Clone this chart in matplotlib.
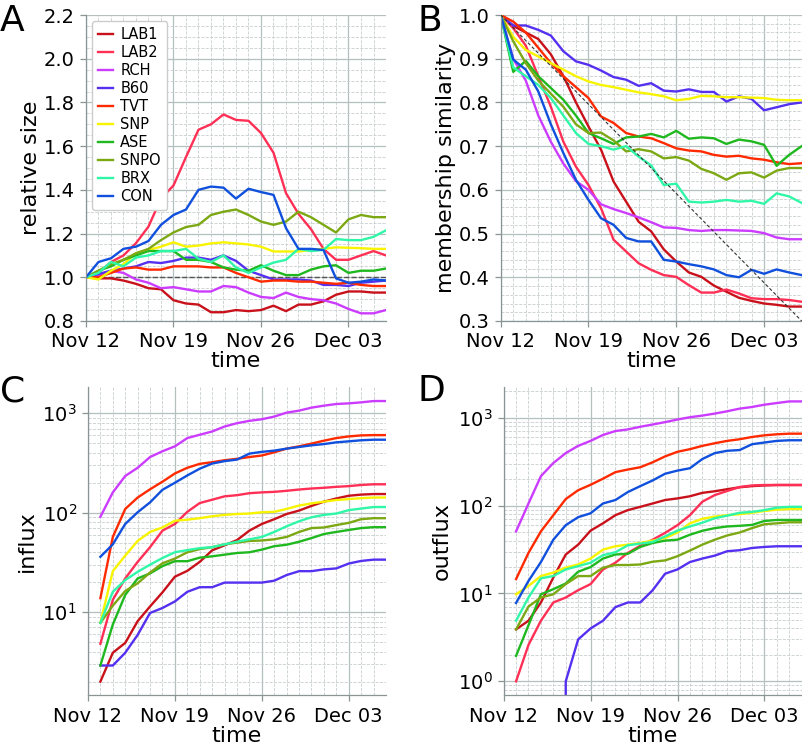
import numpy as np
import pandas as pd
import matplotlib
matplotlib.use("Agg")
import matplotlib.pyplot as plt
import matplotlib.dates as mdates
from matplotlib.ticker import AutoMinorLocator, LogLocator, NullFormatter

# ----------------------------------------------------------------------------
# data
days = pd.date_range("2019-11-12", "2019-12-06", freq="D")   # 25 days
flux_days = days[1:]                                         # influx/outflux start Nov 13

names = ["LAB1", "LAB2", "RCH", "B60", "TVT", "SNP", "ASE", "SNPO", "BRX", "CON"]
colors = ["#c8111a", "#ff2f55", "#cc3cff", "#5530f0", "#ff2a00",
          "#f8f400", "#1fb81f", "#7ca814", "#30f7a8", "#1050dd"]

# panel A: relative size
size_lab1 = [1.0, 0.995, 0.995, 0.985, 0.97, 0.95, 0.945, 0.895, 0.88, 0.875, 0.84, 0.84, 0.85,
             0.845, 0.85, 0.87, 0.845, 0.875, 0.875, 0.89, 0.92, 0.935, 0.935, 0.93, 0.93]
size_lab2 = [1.0, 1.02, 1.07, 1.10, 1.156, 1.232, 1.36, 1.42, 1.55, 1.675, 1.70, 1.745, 1.72,
             1.716, 1.66, 1.57, 1.385, 1.29, 1.22, 1.13, 1.08, 1.08, 1.10, 1.12, 1.10]
size_rch = [1.0, 1.01, 1.03, 1.02, 0.99, 0.975, 0.95, 0.955, 0.945, 0.935, 0.935, 0.96, 0.955,
            0.93, 0.91, 0.905, 0.93, 0.91, 0.90, 0.895, 0.88, 0.855, 0.835, 0.835, 0.85]
size_b60 = [1.0, 1.015, 1.03, 1.04, 1.05, 1.07, 1.065, 1.075, 1.09, 1.09, 1.08, 1.10, 1.075,
            1.03, 1.01, 0.99, 0.99, 0.99, 0.985, 0.965, 0.965, 0.96, 0.975, 0.98, 0.985]
size_tvt = [1.0, 1.0, 1.02, 1.04, 1.045, 1.035, 1.035, 1.05, 1.05, 1.05, 1.045, 1.045, 1.02,
            1.0, 0.98, 0.985, 0.985, 0.98, 0.98, 0.975, 0.97, 0.975, 0.965, 0.96, 0.96]
size_snp = [1.0, 0.99, 1.03, 1.06, 1.11, 1.125, 1.14, 1.16, 1.14, 1.145, 1.155, 1.16, 1.155,
            1.15, 1.14, 1.118, 1.118, 1.118, 1.125, 1.13, 1.137, 1.135, 1.133, 1.13, 1.13]
size_ase = [1.0, 1.03, 1.05, 1.08, 1.10, 1.12, 1.12, 1.12, 1.08, 1.08, 1.07, 1.045, 1.035,
            1.03, 1.055, 1.03, 1.01, 1.01, 1.035, 1.05, 1.055, 1.02, 1.03, 1.03, 1.04]
size_snpo = [1.0, 1.03, 1.06, 1.08, 1.11, 1.13, 1.17, 1.205, 1.23, 1.24, 1.285, 1.30, 1.31,
             1.285, 1.255, 1.24, 1.255, 1.30, 1.275, 1.24, 1.205, 1.265, 1.285, 1.275, 1.275]
size_brx = [1.0, 1.02, 1.07, 1.05, 1.09, 1.10, 1.12, 1.12, 1.13, 1.085, 1.07, 1.10, 1.045,
            1.02, 1.045, 1.067, 1.08, 1.13, 1.12, 1.125, 1.175, 1.17, 1.17, 1.185, 1.215]
size_con = [1.0, 1.07, 1.087, 1.13, 1.14, 1.166, 1.24, 1.285, 1.31, 1.40, 1.415, 1.41, 1.36,
            1.405, 1.39, 1.377, 1.225, 1.13, 1.13, 1.125, 0.995, 0.975, 0.98, 0.99, 0.985]

# panel B: membership similarity
sim_lab1 = [1.0, 0.975, 0.96, 0.945, 0.91, 0.86, 0.80, 0.745, 0.692, 0.619, 0.573, 0.527, 0.505,
            0.464, 0.436, 0.411, 0.401, 0.381, 0.367, 0.353, 0.346, 0.34, 0.337, 0.333, 0.333]
sim_lab2 = [1.0, 0.97, 0.93, 0.86, 0.79, 0.71, 0.653, 0.611, 0.558, 0.486, 0.459, 0.432, 0.417,
            0.405, 0.401, 0.382, 0.365, 0.365, 0.372, 0.363, 0.352, 0.35, 0.35, 0.348, 0.344]
sim_rch = [1.0, 0.90, 0.85, 0.77, 0.71, 0.66, 0.62, 0.60, 0.567, 0.556, 0.547, 0.537, 0.526,
           0.514, 0.513, 0.508, 0.506, 0.508, 0.508, 0.507, 0.506, 0.501, 0.491, 0.487, 0.487]
sim_b60 = [1.0, 0.976, 0.976, 0.966, 0.953, 0.917, 0.894, 0.886, 0.873, 0.858, 0.852, 0.838, 0.844,
           0.827, 0.825, 0.83, 0.824, 0.824, 0.802, 0.814, 0.808, 0.782, 0.789, 0.796, 0.80]
sim_tvt = [1.0, 0.985, 0.96, 0.925, 0.89, 0.86, 0.835, 0.81, 0.768, 0.753, 0.73, 0.722, 0.718,
           0.707, 0.695, 0.69, 0.688, 0.68, 0.676, 0.678, 0.672, 0.669, 0.663, 0.659, 0.661]
sim_snp = [1.0, 0.95, 0.92, 0.905, 0.89, 0.875, 0.86, 0.848, 0.84, 0.835, 0.829, 0.823, 0.819,
           0.814, 0.805, 0.808, 0.815, 0.814, 0.812, 0.812, 0.811, 0.81, 0.806, 0.805, 0.805]
sim_ase = [1.0, 0.87, 0.895, 0.86, 0.833, 0.806, 0.77, 0.73, 0.718, 0.705, 0.72, 0.722, 0.728,
           0.72, 0.735, 0.717, 0.72, 0.718, 0.705, 0.715, 0.711, 0.703, 0.655, 0.68, 0.70]
sim_snpo = [1.0, 0.94, 0.89, 0.85, 0.82, 0.79, 0.75, 0.73, 0.731, 0.713, 0.688, 0.693, 0.688,
            0.672, 0.675, 0.667, 0.648, 0.638, 0.623, 0.638, 0.64, 0.628, 0.644, 0.65, 0.65]
sim_brx = [1.0, 0.88, 0.86, 0.84, 0.81, 0.77, 0.73, 0.705, 0.70, 0.692, 0.70, 0.676, 0.656,
           0.611, 0.614, 0.573, 0.571, 0.573, 0.577, 0.573, 0.575, 0.568, 0.592, 0.585, 0.57]
sim_con = [1.0, 0.898, 0.875, 0.825, 0.75, 0.684, 0.623, 0.577, 0.535, 0.52, 0.49, 0.482, 0.482,
           0.44, 0.436, 0.43, 0.425, 0.418, 0.405, 0.40, 0.417, 0.408, 0.418, 0.411, 0.405]

# panel C: influx (Nov 13 .. Dec 06)
in_lab1 = [2, 3.9, 4.9, 8.1, 11.4, 15.8, 22.7, 26, 32, 41.8, 47, 53, 66, 77, 86, 97, 105, 117,
           129, 139, 148, 152, 154, 154]
in_lab2 = [4.8, 13.3, 21.8, 32, 45, 66, 77, 102, 125, 135, 146, 150, 157, 160, 162, 166, 171,
           175, 178, 182, 185, 190, 193, 193]
in_rch = [91, 160, 234, 283, 363, 415, 465, 563, 608, 656, 736, 795, 839, 871, 926, 1015, 1063,
          1139, 1193, 1239, 1258, 1288, 1327, 1327]
in_b60 = [2.9, 2.9, 3.9, 5.9, 9.8, 11, 12.8, 16, 17.8, 17.8, 19.8, 19.8, 19.8, 19.8, 20.7, 23.6,
          25.8, 25.8, 26.9, 27.5, 30.8, 32.7, 33.7, 33.7]
in_tvt = [13.8, 57, 109, 142, 172, 205, 248, 283, 310, 322, 337, 348, 363, 376, 405, 441, 465,
          495, 530, 563, 585, 599, 603, 603]
in_snp = [7.8, 25.8, 37, 52, 64, 71, 83, 85, 88, 92, 95, 97, 98, 101, 102, 109, 118, 124, 129,
          134, 137, 140, 142, 142]
in_ase = [2.9, 7.5, 14.9, 21.8, 24.5, 29, 32.5, 32.5, 35.3, 36.4, 37.8, 39.3, 40, 42.5, 46, 47.6,
          51, 55.5, 61, 64, 67, 70, 71.5, 71.5]
in_snpo = [7.8, 11.6, 16.3, 19.5, 25, 31, 34.5, 40, 43, 45, 48, 50, 52, 52.5, 54, 57, 64, 70, 71,
           75, 79, 86, 88, 88]
in_brx = [7.8, 16, 21, 25.4, 30, 35, 40, 42, 44, 45, 48, 51, 54, 57, 64, 73, 82, 90, 95, 98, 106,
          110, 114, 114]
in_con = [36, 48, 77, 101, 127, 170, 200, 237, 277, 312, 330, 342, 393, 409, 421, 441, 458, 476,
          490, 510, 522, 535, 542, 542]

# panel D: outflux (Nov 13 .. Dec 06)
out_lab1 = [3.9, 4.9, 7.9, 15.2, 27.8, 36, 52, 63, 78, 89, 97, 106, 116, 121, 128, 140, 146, 154,
            162, 167, 170, 172, 172, 172]
out_lab2 = [1, 2.6, 4.9, 7.9, 9.0, 10.9, 12.8, 18.8, 22.4, 29, 35, 41, 49, 60, 78, 111, 132, 147,
            163, 170, 172, 172, 172, 172]
out_rch = [51, 106, 217, 306, 397, 480, 547, 639, 708, 739, 792, 841, 894, 958, 1017, 1062, 1119,
           1189, 1274, 1330, 1413, 1475, 1540, 1540]
out_b60 = [0, 0, 0, 0, 1, 3.0, 4.0, 4.9, 7.0, 7.9, 7.9, 10.9, 16.8, 18.8, 22.8, 25, 27, 30.3,
           31.1, 33, 33.9, 34.5, 34.5, 34.5]
out_tvt = [14.6, 29, 51, 78, 119, 150, 173, 203, 241, 258, 274, 312, 364, 411, 440, 480, 514, 547,
           571, 606, 633, 650, 661, 661]
out_snp = [9.8, 12.2, 15.8, 17.3, 19.7, 21.4, 25, 31.6, 34.5, 36, 37.6, 40, 42.8, 49.5, 63, 71,
           75, 78, 80, 83, 87, 90, 91.5, 91.5]
out_ase = [1.95, 4.35, 9.8, 11.2, 13, 17.7, 20, 25, 27.8, 28.3, 33.9, 37.6, 40, 41, 46.7, 51.8,
           55.5, 58, 59, 60.4, 67, 68.8, 68.8, 68.8]
out_snpo = [3.9, 7.1, 9.0, 9.8, 12.8, 15.8, 15.8, 19.7, 21.1, 21.1, 21.4, 23, 23.8, 26.6, 30.8,
            36, 41, 45.8, 49.5, 55.5, 61.5, 63, 64.7, 64.7]
out_brx = [4.9, 9.0, 14.9, 15.8, 18.8, 20.5, 22.4, 27.3, 29.5, 35.4, 37, 38.6, 44.7, 52, 58, 64,
           72, 77, 83, 85, 89, 95, 97, 97]
out_con = [7.8, 13.9, 22.8, 41, 60, 74, 82, 106, 116, 143, 167, 194, 231, 251, 267, 340, 397, 422,
           430, 501, 524, 547, 556, 556]

size_all = [size_lab1, size_lab2, size_rch, size_b60, size_tvt,
            size_snp, size_ase, size_snpo, size_brx, size_con]
sim_all = [sim_lab1, sim_lab2, sim_rch, sim_b60, sim_tvt,
           sim_snp, sim_ase, sim_snpo, sim_brx, sim_con]
in_all = [in_lab1, in_lab2, in_rch, in_b60, in_tvt,
          in_snp, in_ase, in_snpo, in_brx, in_con]
out_all = [out_lab1, out_lab2, out_rch, out_b60, out_tvt,
           out_snp, out_ase, out_snpo, out_brx, out_con]

major_days = pd.date_range("2019-11-12", "2019-12-03", freq="7D")

LW = 1.7
GRID_MAJOR = "#b4c0c0"
GRID_MINOR = "#c8cfcf"


# ============================================================================
def style_axes(ax, logy=False):
    ax.set_xlim(days[0], days[-1])
    ax.set_xticks(major_days)
    ax.xaxis.set_major_formatter(mdates.DateFormatter("%b %d"))
    ax.xaxis.set_minor_locator(mdates.DayLocator())
    if logy:
        ax.yaxis.set_major_locator(LogLocator(base=10))
        ax.yaxis.set_minor_locator(LogLocator(base=10, subs=np.arange(2, 10)))
        ax.yaxis.set_minor_formatter(NullFormatter())
    else:
        ax.yaxis.set_minor_locator(AutoMinorLocator())
    ax.grid(which="major", color=GRID_MAJOR, lw=0.9, ls="-")
    ax.grid(which="minor", color=GRID_MINOR, lw=0.6, ls="--")
    ax.set_axisbelow(True)
    for s in ["top", "right"]:
        ax.spines[s].set_visible(False)
    for s in ["left", "bottom"]:
        ax.spines[s].set_color("#8a9494")
        ax.spines[s].set_linewidth(0.9)
    ax.tick_params(which="major", length=4, width=0.9, color="#8a9494", labelsize=14)
    ax.tick_params(axis="x", which="major", pad=4)
    ax.tick_params(axis="y", which="major", pad=4)
    ax.tick_params(which="minor", length=0)
    ax.set_xlabel("time", fontsize=16, labelpad=0)


fig = plt.figure(figsize=(8.02, 7.47), dpi=100)
axA = fig.add_axes([0.1072, 0.5703, 0.3741, 0.4096])
axB = fig.add_axes([0.6243, 0.5703, 0.3753, 0.4096])
axC = fig.add_axes([0.1097, 0.0690, 0.3716, 0.4130])
axD = fig.add_axes([0.6280, 0.0690, 0.3716, 0.4130])

# A ---------------------------------------------------------------------------
for name, col, vals in zip(names, colors, size_all):
    axA.plot(days, vals, color=col, lw=LW, label=name)
axA.axhline(1.0, color="#555555", lw=1.0, ls="--", zorder=1)
axA.set_ylim(0.8, 2.2)
style_axes(axA)
axA.set_ylabel("relative size", fontsize=16, labelpad=2)
axA.legend(loc="upper left", fontsize=10.5, handlelength=1.0, handletextpad=0.5,
           labelspacing=0.2, borderpad=0.45, borderaxespad=0.4,
           framealpha=1.0, edgecolor="#cccccc")

# B ---------------------------------------------------------------------------
for name, col, vals in zip(names, colors, sim_all):
    axB.plot(days, vals, color=col, lw=LW)
axB.plot([days[0], days[-1]], [1.0, 0.3], color="#333333", lw=0.8, ls=(0, (3, 2)), zorder=3)
axB.set_ylim(0.3, 1.0)
style_axes(axB)
axB.set_ylabel("membership similarity", fontsize=16, labelpad=2)

# C ---------------------------------------------------------------------------
for name, col, vals in zip(names, colors, in_all):
    axC.plot(flux_days, vals, color=col, lw=LW)
axC.set_yscale("log", nonpositive="clip")
axC.set_ylim(1.45, 1840)
style_axes(axC, logy=True)
axC.set_ylabel("influx", fontsize=16, labelpad=4)

# D ---------------------------------------------------------------------------
for name, col, vals in zip(names, colors, out_all):
    axD.plot(flux_days, vals, color=col, lw=LW)
axD.set_yscale("log", nonpositive="clip")
axD.set_ylim(0.69, 2250)
style_axes(axD, logy=True)
axD.set_ylabel("outflux", fontsize=16, labelpad=4)

# panel letters
for letter, x, y in [("A", 0.0, 0.972), ("B", 0.521, 0.972),
                     ("C", 0.0, 0.476), ("D", 0.521, 0.476)]:
    fig.text(x, y, letter, fontsize=26, ha="left", va="center")

fig.savefig("out.png", dpi=100)
